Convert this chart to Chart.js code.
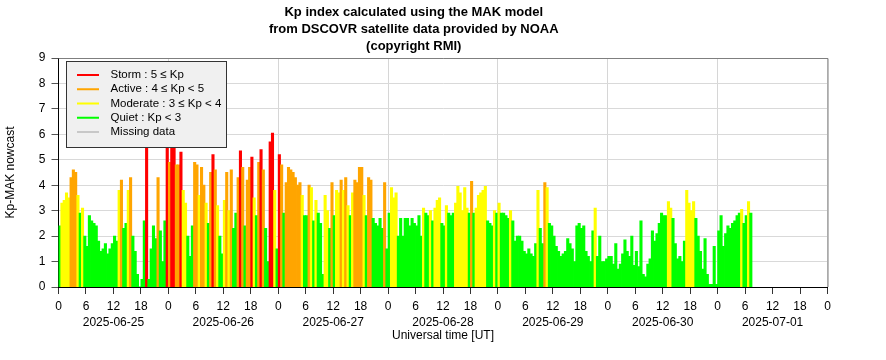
<!DOCTYPE html>
<html>
<head>
<meta charset="utf-8">
<title>Kp index MAK model</title>
<script src="https://cdn.jsdelivr.net/npm/chart.js@4.4.1/dist/chart.umd.min.js"></script>
<style>
    body { margin: 0; background: #fff; }
    #kp_chart { display: block; }
</style>
</head>
<body>
<canvas id="kp_chart" width="886" height="360"></canvas>
<script>
// Kp-MAK nowcast, one value every 30 minutes, each day starting at 00:00 UT
const kp_jun25 = [2.4, 3.3, 3.4, 3.7, 3.5, 4.3, 4.6, 4.5, 3.6, 2.9, 3.1, 2.0, 1.6, 2.8, 2.6, 2.5, 2.4, 1.8, 1.4, 1.5,
                  1.7, 1.3, 1.5, 1.7, 2.0, 1.8, 3.8, 4.2, 2.3, 2.5, 3.8, 4.3, 2.0, 1.4, 0.5, 0.0, 0.3, 2.6, 5.8, 0.3,
                  1.5, 2.4, 1.9, 4.3, 2.2, 1.0, 2.6, 5.8];
const kp_jun26 = [4.9, 6.0, 5.9, 4.8, 4.8, 5.3, 3.8, 3.3, 2.0, 1.2, 2.4, 4.9, 4.8, 3.6, 4.7, 4.0, 3.3, 2.5, 4.5, 5.2,
                  4.6, 3.2, 2.0, 1.3, 3.4, 4.5, 3.0, 4.6, 2.3, 2.9, 4.3, 5.35, 4.7, 2.4, 4.2, 4.7, 5.1, 3.5, 2.8, 4.9,
                  5.4, 4.6, 2.3, 1.0, 5.7, 6.05, 3.8, 1.5];
const kp_jun27 = [5.2, 4.8, 2.9, 4.1, 4.7, 4.6, 4.5, 4.3, 4.0, 4.1, 3.6, 2.8, 2.8, 4.0, 3.9, 2.6, 3.4, 2.9, 2.5, 0.5,
                  3.6, 3.0, 2.3, 4.1, 2.8, 3.8, 3.7, 4.2, 3.8, 4.3, 3.2, 2.8, 3.7, 4.2, 4.1, 4.7, 4.7, 3.6, 2.8, 4.3,
                  4.2, 2.7, 2.5, 2.4, 2.7, 2.3, 4.1, 1.5];
const kp_jun28 = [2.9, 3.9, 3.5, 3.7, 2.0, 2.7, 2.0, 2.7, 2.7, 2.4, 2.7, 2.5, 2.4, 2.8, 2.0, 3.1, 2.9, 2.8, 3.0, 2.6,
                  3.1, 3.4, 3.5, 2.5, 2.4, 3.2, 2.9, 2.8, 2.9, 3.3, 3.95, 3.7, 3.0, 3.9, 3.1, 2.9, 4.15, 2.9, 3.1, 3.6,
                  3.7, 3.8, 3.95, 2.6, 2.5, 2.4, 3.0, 2.9];
const kp_jun29 = [3.3, 2.9, 2.9, 2.8, 2.7, 3.0, 2.6, 1.8, 2.0, 2.0, 1.8, 1.4, 1.3, 1.5, 1.3, 1.2, 1.7, 3.8, 2.3, 1.7,
                  4.1, 3.9, 2.5, 2.4, 2.0, 1.6, 1.4, 1.2, 1.3, 1.4, 1.9, 1.7, 1.5, 1.0, 2.4, 2.5, 2.3, 2.4, 1.4, 1.2,
                  1.0, 2.2, 3.1, 1.2, 2.0, 1.0, 1.0, 1.1];
const kp_jun30 = [1.2, 1.2, 0.9, 1.7, 0.7, 0.9, 1.3, 1.85, 1.4, 1.2, 2.0, 0.85, 1.4, 0.8, 2.6, 0.5, 0.4, 0.9, 1.1, 2.2,
                  1.8, 2.1, 2.5, 2.9, 2.8, 2.8, 3.35, 3.1, 2.7, 1.7, 1.1, 1.2, 1.0, 1.8, 3.8, 3.3, 3.0, 3.35, 2.7, 2.0,
                  1.4, 0.7, 1.9, 0.5, 0.1, 0.1, 1.6, 0.1];
const kp_jul01 = [2.2, 2.8, 1.6, 2.1, 2.4, 2.3, 2.5, 2.6, 2.8, 2.9, 3.05, 2.5, 2.8, 3.35, 2.9];

const day_labels = ['2025-06-25', '2025-06-26', '2025-06-27', '2025-06-28', '2025-06-29', '2025-06-30', '2025-07-01'];
const title_lines = ['Kp index calculated using the MAK model',
                     'from DSCOVR satellite data provided by NOAA',
                     '(copyright RMI)'];
const legend_labels = ['Storm : 5 \u2264 Kp', 'Active : 4 \u2264 Kp < 5', 'Moderate : 3 \u2264 Kp < 4', 'Quiet : Kp < 3', 'Missing data'];

const FONT = "'Liberation Sans', Arial, Helvetica, sans-serif";
const legend_colors = ['#ff0000', '#ffa500', '#ffff00', '#00ff00', '#c8c8c8'];

function kpColor(v){
    if(v >= 5) return '#ff0000';
    if(v >= 4) return '#ffa500';
    if(v >= 3) return '#ffff00';
    return '#00ff00';
}

// x = hours since 2025-06-25 00:00 UT, bar centred in its half hour
const kp_days = [kp_jun25, kp_jun26, kp_jun27, kp_jun28, kp_jun29, kp_jun30, kp_jul01];
const points = [];
kp_days.forEach((day, d) => {
    day.forEach((v, i) => points.push({x: d * 24 + i * 0.5 + 0.25, y: v}));
});

// legend box drawn inside the plot, on top of the bars
const legendBox = {
    id: 'legendBox',
    afterDatasetsDraw(chart){
        const ctx = chart.ctx;
        ctx.save();
        ctx.fillStyle = '#f0f0f0';
        ctx.fillRect(66.5, 61.5, 160, 86);
        ctx.strokeStyle = '#333';
        ctx.lineWidth = 1;
        ctx.strokeRect(66.5, 61.5, 160, 86);
        ctx.font = '11.5px ' + FONT;
        ctx.textBaseline = 'middle';
        legend_labels.forEach((label, i) => {
            const y = 75 + i * 14.25;
            ctx.strokeStyle = legend_colors[i];
            ctx.lineWidth = 2;
            ctx.beginPath();
            ctx.moveTo(77, y);
            ctx.lineTo(99, y);
            ctx.stroke();
            ctx.fillStyle = '#000';
            ctx.fillText(label, 110.5, y);
        });
        ctx.restore();
    }
};

// grey frame on top and right of the plot
const plotFrame = {
    id: 'plotFrame',
    afterDraw(chart){
        const a = chart.chartArea;
        const ctx = chart.ctx;
        ctx.save();
        ctx.strokeStyle = '#7f7f7f';
        ctx.lineWidth = 1;
        ctx.beginPath();
        ctx.moveTo(a.left, a.top + 0.5);
        ctx.lineTo(a.right + 0.5, a.top + 0.5);
        ctx.lineTo(a.right + 0.5, a.bottom);
        ctx.stroke();
        ctx.restore();
    }
};

const ctx = document.getElementById('kp_chart').getContext('2d');
const kp_chart = new Chart(ctx, {
    type: 'bar',
    data: {
        datasets: [{
            label: 'Kp-MAK nowcast',
            data: points,
            backgroundColor: c => kpColor(c.raw ? c.raw.y : 0),
            borderWidth: 0,
            barPercentage: 1,
            categoryPercentage: 1,
            inflateAmount: 0.4
        }]
    },
    options: {
        responsive: false,
        devicePixelRatio: 1,
        animation: false,
        layout: { padding: { left: 0, right: 58.5, top: 0, bottom: 0 } },
        plugins: {
            legend: { display: false },
            tooltip: { enabled: false },
            title: {
                display: true,
                text: title_lines,
                color: '#000',
                font: { family: FONT, size: 13, weight: 'bold', lineHeight: 17 / 13 },
                padding: { top: 3.5, bottom: 3.5 }
            }
        },
        scales: {
            x: {
                type: 'linear',
                min: 0,
                max: 168,
                offset: false,
                afterFit: scale => { scale.height = 73; },
                border: { color: '#000', width: 1 },
                grid: {
                    offset: false,
                    color: c => (c.tick && c.tick.value % 24 === 0) ? '#d6d6d6' : 'rgba(0,0,0,0)',
                    tickColor: '#333',
                    tickLength: 7,
                    lineWidth: 1
                },
                ticks: {
                    stepSize: 6,
                    autoSkip: false,
                    maxRotation: 0,
                    padding: 5,
                    color: '#000',
                    font: { family: FONT, size: 12, lineHeight: 16 / 12 },
                    callback: function(value){
                        const hour = value % 24;
                        if(hour === 12){
                            return [String(hour), day_labels[Math.floor(value / 24)]];
                        }
                        return String(hour);
                    }
                },
                title: {
                    display: true,
                    text: 'Universal time [UT]',
                    color: '#000',
                    font: { family: FONT, size: 12 },
                    padding: { top: 0, bottom: 17 }
                }
            },
            y: {
                min: 0,
                max: 9,
                afterFit: scale => { scale.width = 58.5; },
                border: { color: '#000', width: 1 },
                grid: {
                    color: '#d9d9d9',
                    tickColor: '#555',
                    tickLength: 7
                },
                ticks: {
                    stepSize: 1,
                    padding: 6,
                    color: '#000',
                    font: { family: FONT, size: 12 }
                },
                title: {
                    display: true,
                    text: 'Kp-MAK nowcast',
                    color: '#000',
                    font: { family: FONT, size: 12 },
                    padding: { top: 3, bottom: 0 }
                }
            }
        }
    },
    plugins: [legendBox, plotFrame]
});
</script>
</body>
</html>
